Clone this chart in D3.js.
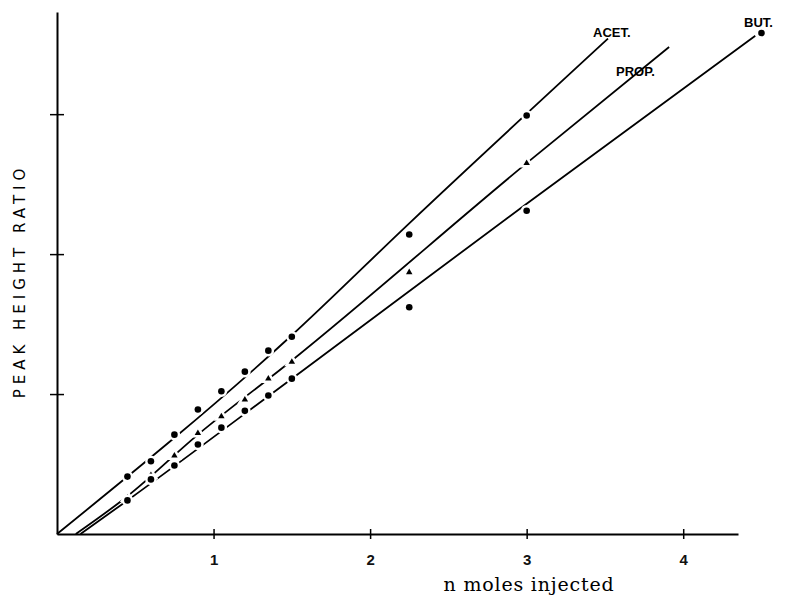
<!DOCTYPE html>
<html>
<head>
<meta charset="utf-8">
<script src="https://cdn.jsdelivr.net/npm/d3@7"></script>
<style>
  body { margin: 0; background: #fff; }
  svg { display: block; }
</style>
</head>
<body>
<div id="graph"></div>
<script>
// amounts injected (n moles)
const xVals = [0.45, 0.6, 0.75, 0.9, 1.05, 1.2, 1.35, 1.5, 2.25, 3.0];
const butX = [0.45, 0.6, 0.75, 0.9, 1.05, 1.2, 1.35, 1.5, 2.25, 3.0, 4.5];

// peak height ratios
const acetVals = [0.41, 0.52, 0.71, 0.89, 1.02, 1.16, 1.31, 1.41, 2.14, 2.99];
const propVals = [0.26, 0.42, 0.56, 0.72, 0.84, 0.96, 1.11, 1.23, 1.87, 2.65];
const butVals = [0.24, 0.39, 0.49, 0.64, 0.76, 0.88, 0.99, 1.11, 1.62, 2.31, 3.58];

// hand drawn lines through the points (x, y pairs)
const acetLine = [[0, 0], [1.5, 1.42], [2.25, 2.22], [3.52, 3.54]];
const propLine = [[0.12, 0], [0.45, 0.27], [0.9, 0.71], [1.5, 1.24], [3.0, 2.65], [3.91, 3.48]];
const butLine = [[0.15, 0], [0.45, 0.24], [1.5, 1.11], [3.0, 2.36], [4.46, 3.56]];

const xTicks = [1, 2, 3, 4];
const yTicks = [1, 2, 3];

const width = 789, height = 596;

const svg = d3.select("#graph").append("svg")
    .attr("width", width)
    .attr("height", height);

const x = d3.scaleLinear().domain([0, 4.35]).range([57, 738]);
const y = d3.scaleLinear().domain([0, 3.73]).range([534, 12]);

// x axis
const gx = svg.append("g")
    .attr("transform", `translate(0,${y(0)})`)
    .call(d3.axisBottom(x).tickValues(xTicks).tickSizeOuter(0).tickPadding(14).tickFormat(d3.format("d")));
gx.select(".domain").attr("stroke-width", 2);
gx.selectAll(".tick line").attr("y1", -5).attr("y2", 5).attr("stroke-width", 1.5);
gx.selectAll(".tick text")
    .attr("font-family", "Liberation Sans, Arial, sans-serif")
    .attr("font-weight", "bold")
    .attr("font-size", 15)
    .attr("fill", "#111");

// y axis
const gy = svg.append("g")
    .attr("transform", `translate(${x(0)},0)`)
    .call(d3.axisLeft(y).tickValues(yTicks).tickSizeOuter(0).tickFormat(""));
gy.select(".domain").attr("stroke-width", 2);
gy.selectAll(".tick line").attr("x1", -7).attr("x2", 7).attr("stroke-width", 1.5);

// axis titles
svg.append("text")
    .attr("x", 529).attr("y", 591)
    .attr("text-anchor", "middle")
    .attr("font-family", "DejaVu Serif, serif")
    .attr("font-size", 19)
    .attr("letter-spacing", 0.8)
    .text("n moles injected");

svg.append("text")
    .attr("transform", "translate(25,281) rotate(-90)")
    .attr("text-anchor", "middle")
    .attr("font-family", "DejaVu Sans, sans-serif")
    .attr("font-size", 15)
    .attr("letter-spacing", 5)
    .text("PEAK HEIGHT RATIO");

const line = d3.line()
    .x(d => x(d[0]))
    .y(d => y(d[1]))
    .curve(d3.curveMonotoneX);

[acetLine, propLine, butLine].forEach(l => {
    svg.append("path")
        .attr("d", line(l))
        .attr("fill", "none")
        .attr("stroke", "#000")
        .attr("stroke-width", 1.8);
});

// points with white halo, giving the broken look of the original
function dots(xs, ys, kind) {
    const g = svg.append("g");
    const pts = xs.map((v, i) => [v, ys[i]]);
    if (kind === "tri") {
        g.selectAll("path").data(pts).join("path")
            .attr("transform", d => `translate(${x(d[0])},${y(d[1])})`)
            .attr("d", d3.symbol(d3.symbolTriangle, 18))
            .attr("fill", "#000")
            .attr("stroke", "#fff")
            .attr("stroke-width", 5)
            .attr("paint-order", "stroke");
    } else {
        g.selectAll("circle").data(pts).join("circle")
            .attr("cx", d => x(d[0]))
            .attr("cy", d => y(d[1]))
            .attr("r", 3.3)
            .attr("fill", "#000")
            .attr("stroke", "#fff")
            .attr("stroke-width", 5)
            .attr("paint-order", "stroke");
    }
}
dots(xVals, acetVals, "dot");
dots(xVals, propVals, "tri");
dots(butX, butVals, "dot");

// series labels
const labelFont = "Liberation Sans, Arial, sans-serif";
[["ACET.", 593, 37], ["PROP.", 616, 76], ["BUT.", 744, 27]].forEach(([t, lx, ly]) => {
    svg.append("text")
        .attr("x", lx).attr("y", ly)
        .attr("font-family", labelFont)
        .attr("font-weight", "bold")
        .attr("font-size", 13)
        .text(t);
});
</script>
</body>
</html>
